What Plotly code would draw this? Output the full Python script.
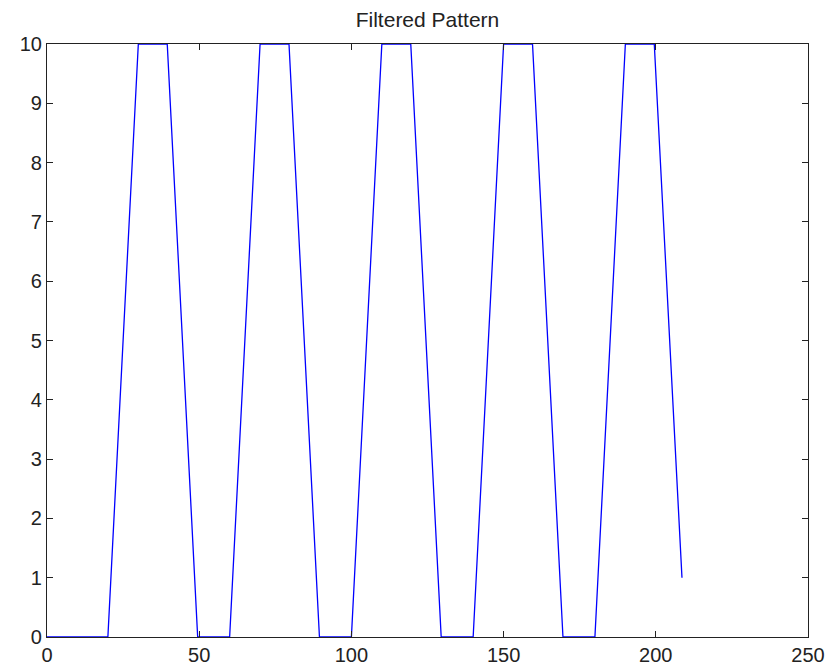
import plotly.graph_objects as go

# breakpoints of the filtered pattern (sample index, value)
sample_idx = [0, 20, 30, 39.5, 49.5, 60, 70, 79.5, 89.5, 100, 110, 119.5,
              129.5, 140, 150, 159.5, 169.5, 180, 190, 199.5, 208.6]
pattern_val = [0, 0, 10, 10, 0, 0, 10, 10, 0, 0, 10, 10,
               0, 0, 10, 10, 0, 0, 10, 10, 1]

x_ticks = [0, 50, 100, 150, 200, 250]
y_ticks = list(range(0, 11))

fig = go.Figure()
fig.add_trace(go.Scatter(x=sample_idx, y=pattern_val, mode="lines",
                         line=dict(color="#0000ff", width=1.3)))

axis_style = dict(showline=True, linecolor="#222", linewidth=1.2, mirror="ticks",
                  ticks="inside", ticklen=6, tickcolor="#222", showgrid=False,
                  zeroline=False, automargin=False,
                  tickfont=dict(family="Liberation Sans, Arial", size=20, color="#222"))

fig.update_xaxes(range=[0, 250], tickvals=x_ticks, **axis_style)
fig.update_yaxes(range=[0, 10], tickvals=y_ticks, **axis_style)

# the page body adds an 8px offset, so margins are shifted to compensate
fig.update_layout(
    width=840, height=667,
    margin=dict(l=39, r=40, t=36, b=38),
    plot_bgcolor="white", paper_bgcolor="white",
    showlegend=False,
    title=dict(text="Filtered Pattern", x=(39 + 800) / 2 / 840, xanchor="center",
               y=0.983, yanchor="middle",
               font=dict(family="Liberation Sans, Arial", size=21, color="#222")),
)

fig.write_html("out.html")
